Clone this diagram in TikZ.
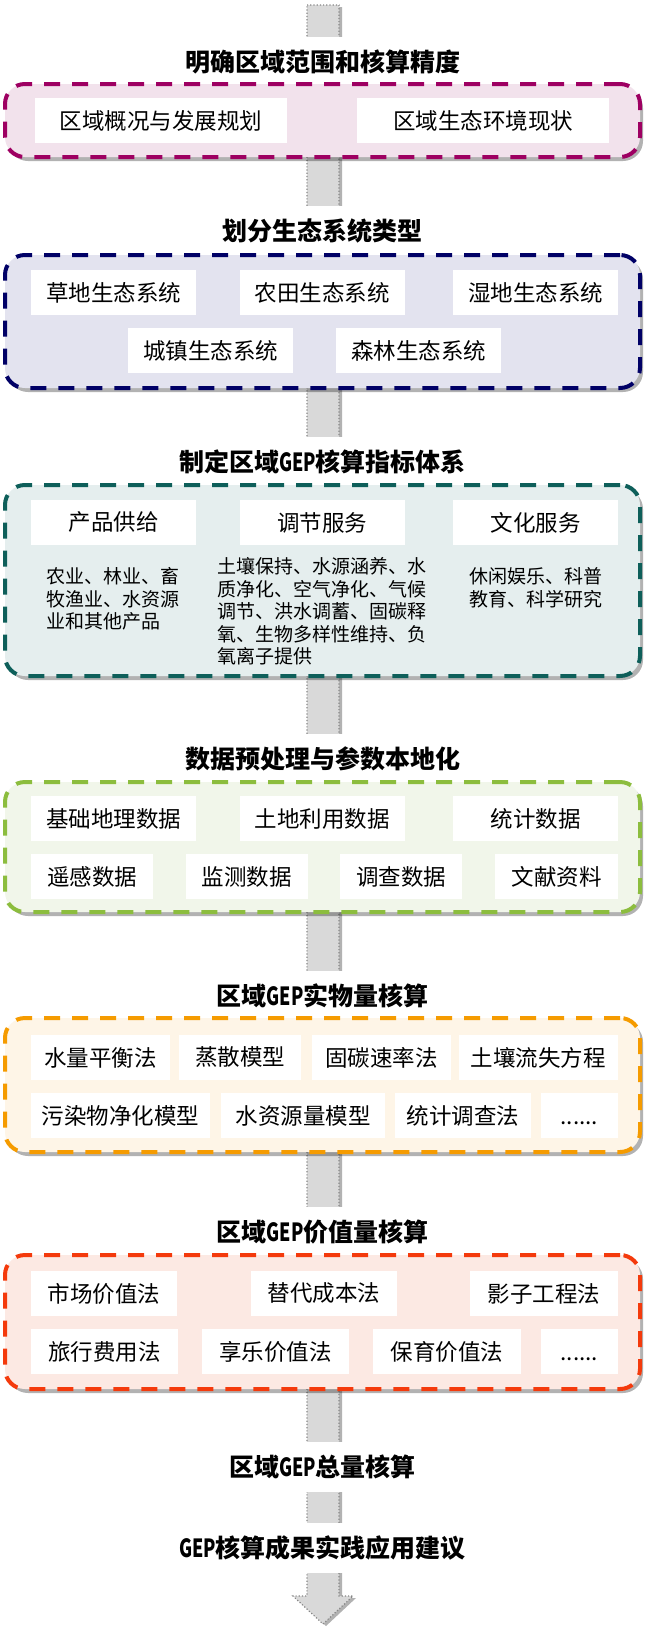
\documentclass[tikz,border=0pt]{standalone}
\usepackage{fontspec}
\usepackage{graphicx}
\setmainfont{Noto Sans CJK SC}
\usetikzlibrary{shadows}
\newcommand{\gepword}{\scalebox{0.72}[1]{GEP}}
\definecolor{cA}{RGB}{158,0,98}
\definecolor{fA}{RGB}{242,226,236}
\definecolor{cB}{RGB}{0,0,102}
\definecolor{fB}{RGB}{227,227,239}
\definecolor{cC}{RGB}{14,95,90}
\definecolor{fC}{RGB}{229,238,238}
\definecolor{cD}{RGB}{140,189,62}
\definecolor{fD}{RGB}{241,246,234}
\definecolor{cE}{RGB}{245,155,0}
\definecolor{fE}{RGB}{254,245,231}
\definecolor{cF}{RGB}{244,58,12}
\definecolor{fF}{RGB}{252,233,227}
\definecolor{shaftfill}{RGB}{217,217,217}
\definecolor{shaftline}{RGB}{135,135,135}
\begin{document}
\begin{tikzpicture}[x=1pt,y=-1pt,
  outerbox/.style={rounded corners=20pt, line width=4pt, dash pattern=on 16pt off 12pt,
    drop shadow={shadow xshift=3pt, shadow yshift=-4pt, opacity=0.3, fill=black},
    inner sep=0pt, minimum width=635pt},
  innerbox/.style={fill=white, inner sep=0pt, minimum height=45pt,
    font=\fontsize{22.5}{27}\selectfont},
  bodytext/.style={inner sep=0pt, align=left, anchor=north west,
    font=\fontsize{19}{22.5}\selectfont},
  titlenode/.style={fill=white, inner sep=0pt, minimum height=50pt, minimum width=120pt,
    font=\fontsize{25}{30}\selectfont\bfseries},
  shaftstyle/.style={fill=shaftfill, draw=shaftline, line width=1.2pt, dotted,
    drop shadow={shadow xshift=3pt, shadow yshift=-2pt, opacity=0.3, fill=black}}
]
\useasboundingbox (0,0) rectangle (656,1641);
\fill[white] (0,0) rectangle (656,1641);

% background arrow
\coordinate (arrowtop) at (323,5);
\coordinate (arrowtip) at (323,1624);
\draw[shaftstyle] (307,5) -- (339,5) -- (339,1596) -- (353,1596) -- (arrowtip) -- (293,1596) -- (307,1596) -- cycle;

% titles
\node[titlenode] (t1) at (322.5,62) {明确区域范围和核算精度};
\node[titlenode] (t2) at (322.5,231) {划分生态系统类型};
\node[titlenode] (t3) at (322.5,462) {制定区域\gepword 核算指标体系};
\node[titlenode] (t4) at (322.5,759) {数据预处理与参数本地化};
\node[titlenode] (t5) at (322.5,996) {区域\gepword 实物量核算};
\node[titlenode] (t6) at (322.5,1232) {区域\gepword 价值量核算};
\node[titlenode] (t7) at (322.5,1467) {区域\gepword 总量核算};
\node[titlenode] (t8) at (322.5,1548) {\gepword 核算成果实践应用建议};

% box 1
\node[outerbox, draw=cA, fill=fA, minimum height=73pt] (b1) at (322.5,120.5) {};
\node[innerbox, minimum width=252pt] (b1a) at (161,120.5) {区域概况与发展规划};
\node[innerbox, minimum width=252pt] (b1b) at (483,120.5) {区域生态环境现状};

% box 2
\node[outerbox, draw=cB, fill=fB, minimum height=133pt] (b2) at (322.5,321.5) {};
\node[innerbox, minimum width=165pt] (b2a) at (113.5,292.5) {草地生态系统};
\node[innerbox, minimum width=165pt] (b2b) at (322,292.5) {农田生态系统};
\node[innerbox, minimum width=165pt] (b2c) at (535.5,292.5) {湿地生态系统};
\node[innerbox, minimum width=165pt] (b2d) at (210.5,350.5) {城镇生态系统};
\node[innerbox, minimum width=165pt] (b2e) at (418.5,350.5) {森林生态系统};

% box 3
\node[outerbox, draw=cC, fill=fC, minimum height=191pt] (b3) at (322.5,580.5) {};
\node[innerbox, minimum width=165pt] (b3a) at (113.5,522.5) {产品供给};
\node[innerbox, minimum width=165pt] (b3b) at (322,522.5) {调节服务};
\node[innerbox, minimum width=165pt] (b3c) at (535.5,522.5) {文化服务};
\node[bodytext] (b3ta) at (46,567.5) {农业、林业、畜\\牧渔业、水资源\\业和其他产品};
\node[bodytext] (b3tb) at (217,557.5) {土壤保持、水源涵养、水\\质净化、空气净化、气候\\调节、洪水调蓄、固碳释\\氧、生物多样性维持、负\\氧离子提供};
\node[bodytext] (b3tc) at (469,567.5) {休闲娱乐、科普\\教育、科学研究};

% box 4
\node[outerbox, draw=cD, fill=fD, minimum height=130pt] (b4) at (322.5,847) {};
\node[innerbox, minimum width=165pt] (b4a) at (113.5,818.5) {基础地理数据};
\node[innerbox, minimum width=165pt] (b4b) at (322,818.5) {土地利用数据};
\node[innerbox, minimum width=165pt] (b4c) at (535.5,818.5) {统计数据};
\node[innerbox, minimum width=122pt] (b4d) at (92,876.5) {遥感数据};
\node[innerbox, minimum width=122pt] (b4e) at (246.75,876.5) {监测数据};
\node[innerbox, minimum width=122pt] (b4f) at (401.25,876.5) {调查数据};
\node[innerbox, minimum width=123pt] (b4g) at (556.5,876.5) {文献资料};

% box 5
\node[outerbox, draw=cE, fill=fE, minimum height=134pt] (b5) at (322.5,1085) {};
\node[innerbox, minimum width=139pt] (b5a) at (100.5,1057.5) {水量平衡法};
\node[innerbox, minimum width=122pt] (b5b) at (240,1057.5) {蒸散模型};
\node[innerbox, minimum width=139pt] (b5c) at (381.5,1057.5) {固碳速率法};
\node[innerbox, minimum width=158.5pt] (b5d) at (538.25,1057.5) {土壤流失方程};
\node[innerbox, minimum width=179pt] (b5e) at (120.5,1115.5) {污染物净化模型};
\node[innerbox, minimum width=164pt] (b5f) at (303,1115.5) {水资源量模型};
\node[innerbox, minimum width=136pt] (b5g) at (463,1115.5) {统计调查法};
\node[innerbox, minimum width=76.5pt] (b5h) at (579.25,1115.5) {\vphantom{水}......};

% box 6
\node[outerbox, draw=cF, fill=fF, minimum height=134pt] (b6) at (322.5,1322) {};
\node[innerbox, minimum width=146pt] (b6a) at (104,1293.5) {市场价值法};
\node[innerbox, minimum width=146pt] (b6b) at (324,1293.5) {替代成本法};
\node[innerbox, minimum width=147.5pt] (b6c) at (543.75,1293.5) {影子工程法};
\node[innerbox, minimum width=147pt] (b6d) at (104.5,1351.5) {旅行费用法};
\node[innerbox, minimum width=147pt] (b6e) at (275.5,1351.5) {享乐价值法};
\node[innerbox, minimum width=148pt] (b6f) at (447,1351.5) {保育价值法};
\node[innerbox, minimum width=76.5pt] (b6g) at (579.25,1351.5) {\vphantom{水}......};
\end{tikzpicture}
\end{document}
